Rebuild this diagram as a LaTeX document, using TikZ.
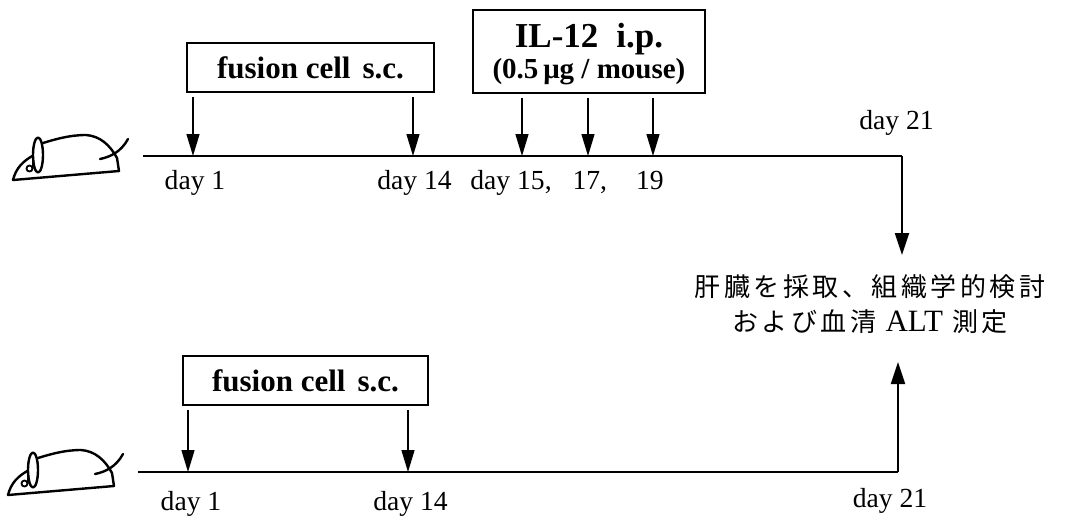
\documentclass[tikz,border=0pt]{standalone}
\usepackage{fontspec}
\setmainfont{Liberation Serif}
\newfontfamily\jpfont[LetterSpace=13.5]{Noto Sans CJK JP}
\usetikzlibrary{arrows.meta}

\tikzset{
  mouseline/.style={line width=1.2pt,line cap=round,line join=round},
  mouse/.pic={
    % body outline
    \draw[mouseline] (13,180) -- (119,171) -- (117,158)
      .. controls (110,145) and (100,136) .. (86,135)
      .. controls (70,135) and (56,139) .. (43,143);
    % face
    \draw[mouseline] (13,180) .. controls (16,168) and (23,161) .. (34,155);
    % ear
    \draw[mouseline,fill=white] (38,155) ellipse [x radius=5, y radius=17.5];
    % eye
    \draw[line width=0.9pt] (29.5,168.5) circle [radius=3];
    \draw[line width=0.9pt] (32.5,169) -- (33.5,160);
    % tail
    \draw[mouseline] (100,159) .. controls (110,157) and (121,152) .. (128,139);
  }
}

\begin{document}
\begin{tikzpicture}[x=0.5pt,y=-0.5pt,
  timeline/.style={line width=1.1pt,line join=miter},
  shot/.style={line width=0.7pt,shorten <=2pt,-{Triangle[length=11pt,width=6.5pt]}},
  bigshot/.style={line width=1.1pt,-{Triangle[length=11pt,width=7pt]}},
  dosebox/.style={draw,line width=0.9pt,inner sep=0pt,
    font=\fontsize{15.5}{18}\selectfont\bfseries},
  daylabel/.style={anchor=base,inner sep=0pt,font=\fontsize{13.8}{16}\selectfont}
]
\useasboundingbox (0,0) rectangle (1073,521);

% ---------- upper group: fusion cells + IL-12 ----------
\pic at (0,0) {mouse};
\coordinate (a0)  at (143,156);
\coordinate (a1)  at (193,156);
\coordinate (a14) at (413,156);
\coordinate (a15) at (522,156);
\coordinate (a17) at (588,156);
\coordinate (a19) at (653,156);
\coordinate (a21) at (902,156);
\coordinate (ahit) at (902,255);
\draw[timeline] (a0) -- (a21);
\draw[bigshot] (a21) -- (ahit);

\node[dosebox,minimum width=123.5pt,minimum height=24.5pt] (fa) at (310.5,67.5)
  {fusion cell\hspace{6pt}s.c.};
\node[dosebox,minimum width=116pt,minimum height=41.5pt,align=center,
  font=\fontsize{14.5}{10}\selectfont\bfseries] (il) at (589,51.5)
  {{\fontsize{17.5}{10}\selectfont\rule{0pt}{15pt}IL-12\hspace{9pt}i.p.}\\[0.6pt](0.5\,μg / mouse)};

\draw[shot] (fa.south -| a1)  -- (a1);
\draw[shot] (fa.south -| a14) -- (a14);
\draw[shot] (il.south -| a15) -- (a15);
\draw[shot] (il.south -| a17) -- (a17);
\draw[shot] (il.south -| a19) -- (a19);

\node[daylabel] (la1)  at (195,189)   {day 1};
\node[daylabel] (la14) at (414.5,189) {day 14};
\node[daylabel,anchor=base west] (la15) at (470,189)
  {day 15,\hspace{10.5pt}17,\hspace{14.5pt}19};
\node[daylabel] (la21) at (896.5,129) {day 21};

% ---------- outcome ----------
\node[inner sep=0pt,align=center,font=\jpfont\fontsize{13}{17.5}\selectfont] (jp) at (870,304)
  {肝臓を採取、組織学的検討\\および血清 {\rmfamily\fontsize{15.5}{17.5}\selectfont ALT} 測定};

% ---------- lower group: fusion cells only ----------
\pic at (-5,315) {mouse};
\coordinate (b0)  at (138,472);
\coordinate (b1)  at (188,472);
\coordinate (b14) at (408,472);
\coordinate (b21) at (898,472);
\coordinate (bhit) at (898,362);
\draw[timeline] (b0) -- (b21);
\draw[bigshot] (b21) -- (bhit);

\node[dosebox,minimum width=122.5pt,minimum height=24.5pt] (fb) at (305.5,380.5)
  {fusion cell\hspace{6pt}s.c.};
\draw[shot] (fb.south -| b1)  -- (b1);
\draw[shot] (fb.south -| b14) -- (b14);

\node[daylabel] (lb1)  at (191,510)   {day 1};
\node[daylabel] (lb14) at (410.5,510) {day 14};
\node[daylabel] (lb21) at (890,507)   {day 21};
\end{tikzpicture}
\end{document}
